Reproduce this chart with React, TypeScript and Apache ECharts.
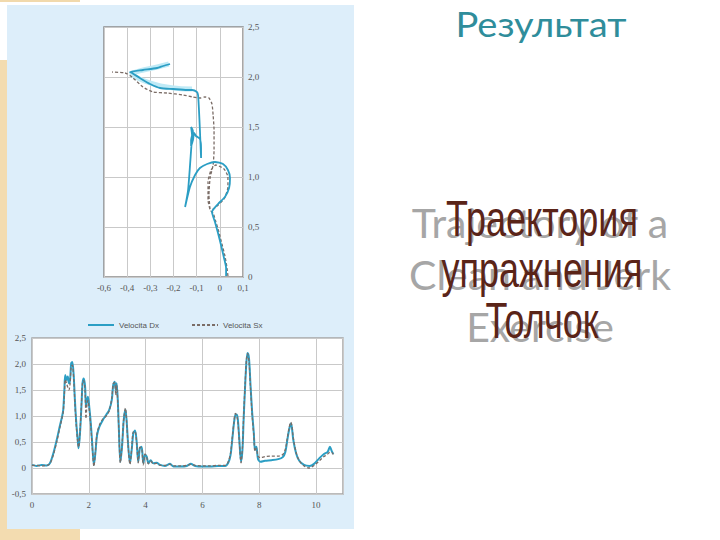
import React, { useEffect, useRef } from "react";
import * as echarts from "echarts";

// ---- Top chart: bar trajectory (x = horizontal displacement, y = height) ----
const topXLabels = ["-0,6", "-0,4", "-0,3", "-0,2", "-0,1", "0", "0,1"];
const trajDxX = [0.027, 0.027, 0.018, 0.005, -0.008, -0.021, -0.034, -0.008, 0.022, 0.04, 0.044, 0.035, 0.014, -0.021, -0.055, -0.086, -0.107, -0.129, -0.15, -0.137, -0.124, -0.12, -0.124, -0.116, -0.124, -0.124, -0.116, -0.111, -0.103, -0.086, -0.081, -0.081, -0.086, -0.09, -0.094, -0.099, -0.12, -0.142, -0.202, -0.258, -0.301, -0.345, -0.379, -0.388, -0.332, -0.271, -0.245, -0.215];
const trajDxY = [0.01, 0.09, 0.19, 0.32, 0.44, 0.55, 0.65, 0.73, 0.8, 0.89, 0.99, 1.07, 1.13, 1.15, 1.13, 1.09, 1.02, 0.9, 0.7, 0.87, 1.27, 1.42, 1.5, 1.46, 1.37, 1.31, 1.37, 1.44, 1.41, 1.38, 1.29, 1.19, 1.47, 1.67, 1.82, 1.85, 1.87, 1.87, 1.88, 1.89, 1.93, 1.99, 2.04, 2.05, 2.07, 2.09, 2.11, 2.13];
const trajSxX = [0.035, 0.031, 0.022, 0.009, -0.004, -0.017, -0.029, -0.038, -0.017, 0.018, 0.035, 0.035, 0.018, -0.017, -0.038, -0.051, -0.051, -0.042, -0.047, -0.042, -0.029, -0.025, -0.025, -0.029, -0.034, -0.047, -0.064, -0.086, -0.116, -0.159, -0.228, -0.288, -0.332, -0.379, -0.409, -0.465];
const trajSxY = [0.01, 0.09, 0.21, 0.33, 0.45, 0.55, 0.64, 0.66, 0.7, 0.78, 0.9, 1.0, 1.08, 1.12, 1.07, 0.95, 0.77, 0.67, 0.82, 0.99, 1.12, 1.27, 1.47, 1.62, 1.73, 1.79, 1.8, 1.79, 1.8, 1.82, 1.84, 1.85, 1.9, 2.0, 2.04, 2.05];
const glowX = [-0.12, -0.2, -0.3, -0.38, -0.33, -0.27, -0.22];
const glowY = [1.88, 1.89, 1.94, 2.03, 2.07, 2.1, 2.13];

// ---- Bottom chart: bar speed over time ----
const timeDx = [0, 0.16, 0.34, 0.52, 0.63, 0.75, 0.87, 0.99, 1.06, 1.1, 1.14, 1.17, 1.22, 1.26, 1.3, 1.34, 1.38, 1.42, 1.47, 1.51, 1.56, 1.61, 1.64, 1.69, 1.74, 1.78, 1.82, 1.87, 1.9, 1.94, 1.97, 2.02, 2.07, 2.12, 2.18, 2.23, 2.29, 2.37, 2.49, 2.61, 2.72, 2.81, 2.86, 2.91, 2.95, 2.98, 3.02, 3.06, 3.11, 3.17, 3.23, 3.29, 3.33, 3.39, 3.45, 3.51, 3.57, 3.63, 3.69, 3.74, 3.8, 3.86, 3.92, 3.98, 4.04, 4.1, 4.18, 4.27, 4.39, 4.51, 4.68, 4.86, 4.98, 5.21, 5.45, 5.59, 5.74, 6.03, 6.27, 6.56, 6.8, 6.91, 6.99, 7.05, 7.11, 7.16, 7.21, 7.25, 7.3, 7.36, 7.41, 7.45, 7.5, 7.55, 7.59, 7.64, 7.69, 7.75, 7.81, 7.85, 7.9, 7.96, 8.05, 8.2, 8.43, 8.67, 8.83, 8.92, 8.99, 9.05, 9.11, 9.15, 9.2, 9.3, 9.41, 9.58, 9.77, 9.93, 10.12, 10.28, 10.41, 10.49, 10.55, 10.61];
const speedDx = [0.06, 0.04, 0.06, 0.05, 0.09, 0.28, 0.54, 0.83, 0.99, 1.12, 1.5, 1.79, 1.69, 1.76, 1.63, 1.69, 2.01, 2.04, 1.76, 1.31, 0.86, 0.54, 0.38, 0.67, 1.18, 1.63, 1.72, 1.56, 1.18, 1.31, 1.37, 1.15, 0.86, 0.47, 0.06, 0.28, 0.63, 0.79, 0.92, 1.02, 1.12, 1.31, 1.6, 1.66, 1.5, 1.63, 1.31, 0.73, 0.12, 0.41, 0.92, 1.12, 0.92, 0.41, 0.09, 0.35, 0.67, 0.72, 0.47, 0.12, 0.38, 0.41, 0.09, 0.25, 0.22, 0.09, 0.15, 0.09, 0.1, 0.06, 0.04, 0.08, 0.03, 0.03, 0.04, 0.08, 0.04, 0.03, 0.03, 0.04, 0.04, 0.1, 0.25, 0.54, 0.86, 1.02, 1.03, 0.92, 0.54, 0.12, 0.35, 0.92, 1.53, 2.04, 2.21, 2.11, 1.63, 1.08, 0.67, 0.35, 0.41, 0.17, 0.12, 0.14, 0.15, 0.17, 0.21, 0.31, 0.54, 0.73, 0.85, 0.78, 0.54, 0.28, 0.14, 0.06, 0.04, 0.08, 0.19, 0.27, 0.31, 0.41, 0.33, 0.27];
const timeSx = timeDx;
const speedSx = [0.05, 0.05, 0.04, 0.05, 0.08, 0.25, 0.5, 0.8, 0.97, 1.08, 1.42, 1.7, 1.62, 1.55, 1.5, 1.62, 1.95, 1.98, 1.7, 1.25, 0.8, 0.5, 0.4, 0.7, 1.22, 1.66, 1.68, 1.45, 0.95, 1.25, 1.3, 1.1, 0.8, 0.42, 0.03, 0.3, 0.66, 0.82, 0.94, 1.0, 1.1, 1.35, 1.62, 1.64, 1.4, 1.6, 1.25, 0.7, 0.1, 0.45, 0.95, 1.15, 0.9, 0.38, 0.07, 0.38, 0.7, 0.7, 0.44, 0.1, 0.4, 0.38, 0.06, 0.27, 0.2, 0.08, 0.13, 0.08, 0.09, 0.05, 0.05, 0.07, 0.04, 0.04, 0.05, 0.07, 0.05, 0.04, 0.04, 0.05, 0.05, 0.12, 0.28, 0.58, 0.88, 1.05, 1.0, 0.88, 0.5, 0.1, 0.4, 0.98, 1.58, 2.08, 2.2, 2.05, 1.58, 1.02, 0.62, 0.32, 0.38, 0.22, 0.2, 0.22, 0.23, 0.23, 0.26, 0.36, 0.58, 0.76, 0.88, 0.82, 0.58, 0.3, 0.14, 0.04, 0.0, 0.05, 0.14, 0.22, 0.27, 0.3, 0.3, 0.26];
const bottomXLabels = ["0", "2", "4", "6", "8", "10"];

const seriesNames = ["Velocita Dx", "Velocita Sx"];
const titleText = "Результат";
const ruLines = ["Траектория", "упражнения", "Толчок"];
const enLines = ["Trajectory of a", "Clean and Jerk", "Exercise"];

const zip = (a: number[], b: number[]) => a.map((v, i) => [v, b[i]]);
const fmtNum = (v: number) => (Math.abs(v) < 1e-9 ? "0" : v.toFixed(1).replace(".", ","));

const DX_COLOR = "#2b9ec4";
const SX_COLOR = "#7a6c66";
const LABEL_FONT = "Liberation Serif";

export default function App() {
  const ref = useRef<HTMLDivElement>(null);
  useEffect(() => {
    if (!ref.current) return;
    const chart = echarts.init(ref.current, null, { renderer: "svg" });
    const axisCommon = {
      axisLine: { show: false },
      axisTick: { show: false },
      splitLine: { show: true, lineStyle: { color: "#c9c9c9", width: 1 } },
    };
    const option: any = {
      animation: false,
      backgroundColor: "#ffffff",
      graphic: [
        { type: "rect", z: -10, shape: { x: 0, y: 0, width: 80, height: 2 }, style: { fill: "#f1d9ac" } },
        { type: "rect", z: -10, shape: { x: 0, y: 60, width: 8, height: 480 }, style: { fill: "#f3dcb0" } },
        { type: "rect", z: -10, shape: { x: 0, y: 528, width: 80, height: 12 }, style: { fill: "#f3dcb0" } },
        { type: "rect", z: -9, shape: { x: 7, y: 5, width: 347, height: 524 }, style: { fill: "#ddeefa" } },
        {
          type: "text", z: 50, x: 541, y: 24, scaleX: 1.12,
          style: { text: titleText, fontFamily: "Lato", fontSize: 34, fill: "#2f8d9b", align: "center", verticalAlign: "middle" },
        },
        ...enLines.map((t, i) => ({
          type: "text", z: 40, x: 540, y: 222 + i * 52,
          style: {
            text: t, fontFamily: "Lato", fontSize: 41, fill: "#a6a6a6", align: "center", verticalAlign: "middle",
            shadowBlur: 4, shadowColor: "rgba(0,0,0,0.3)", shadowOffsetX: 1, shadowOffsetY: 1,
          },
        })),
        ...ruLines.map((t, i) => ({
          type: "text", z: 60, x: 542, y: 219 + i * 51, scaleX: 0.72,
          style: { text: t, fontFamily: "Liberation Sans", fontSize: 50, fill: "#5a2418", align: "center", verticalAlign: "middle" },
        })),
      ],
      legend: {
        data: seriesNames,
        left: 82,
        top: 316,
        itemWidth: 26,
        itemHeight: 8,
        itemGap: 32,
        itemStyle: { opacity: 0 },
        textStyle: { fontSize: 8, color: "#555", fontFamily: "Liberation Sans" },
      },
      grid: [
        { left: 104, top: 27, width: 139, height: 250, show: true, backgroundColor: "#ffffff", borderColor: "#8a8a8a", borderWidth: 1.5 },
        { left: 32, top: 338, width: 311, height: 156, show: true, backgroundColor: "#ffffff", borderColor: "#a5a5a5", borderWidth: 1.5 },
      ],
      xAxis: [
        {
          gridIndex: 0, type: "value", min: -0.5, max: 0.1, interval: 0.1, ...axisCommon,
          axisLabel: {
            margin: 6, fontSize: 9, color: "#555", fontFamily: LABEL_FONT,
            formatter: (v: number) => topXLabels[Math.round((v + 0.5) / 0.1)] ?? "",
          },
        },
        {
          gridIndex: 1, type: "value", min: 0, max: 10.95, interval: 2, ...axisCommon,
          axisLabel: {
            margin: 6, fontSize: 9, color: "#555", fontFamily: LABEL_FONT, showMaxLabel: false,
            formatter: (v: number) => {
              const i = Math.round(v / 2);
              return Math.abs(v - i * 2) < 1e-6 ? bottomXLabels[i] ?? "" : "";
            },
          },
        },
      ],
      yAxis: [
        {
          gridIndex: 0, type: "value", position: "right", min: 0, max: 2.5, interval: 0.5, ...axisCommon,
          axisLabel: { margin: 5, fontSize: 9, color: "#555", fontFamily: LABEL_FONT, formatter: fmtNum },
        },
        {
          gridIndex: 1, type: "value", min: -0.5, max: 2.5, interval: 0.5, ...axisCommon,
          axisLabel: { margin: 6, fontSize: 9, color: "#555", fontFamily: LABEL_FONT, formatter: fmtNum },
        },
      ],
      series: [
        {
          name: "glow", type: "line", xAxisIndex: 0, yAxisIndex: 0, data: zip(glowX, glowY),
          symbol: "none", smooth: 0.3, lineStyle: { color: "#bfeaf6", width: 5 }, silent: true,
        },
        {
          name: seriesNames[1], type: "line", xAxisIndex: 0, yAxisIndex: 0, data: zip(trajSxX, trajSxY),
          symbol: "none", smooth: 0.2, color: SX_COLOR, lineStyle: { color: SX_COLOR, width: 1.3, type: [3, 2] },
        },
        {
          name: seriesNames[0], type: "line", xAxisIndex: 0, yAxisIndex: 0, data: zip(trajDxX, trajDxY),
          symbol: "none", smooth: 0.2, color: DX_COLOR, lineStyle: { color: DX_COLOR, width: 1.8 },
        },
        {
          name: seriesNames[0], type: "line", xAxisIndex: 1, yAxisIndex: 1, data: zip(timeDx, speedDx),
          symbol: "none", smooth: 0.3, color: DX_COLOR, lineStyle: { color: DX_COLOR, width: 2 },
        },
        {
          name: seriesNames[1], type: "line", xAxisIndex: 1, yAxisIndex: 1, data: zip(timeSx, speedSx),
          symbol: "none", smooth: 0.3, color: SX_COLOR, lineStyle: { color: SX_COLOR, width: 1.3, type: [3, 2] },
        },
      ],
    };
    chart.setOption(option);
    return () => chart.dispose();
  }, []);
  return <div ref={ref} style={{ position: "absolute", left: 0, top: 0, width: 720, height: 540 }} />;
}
